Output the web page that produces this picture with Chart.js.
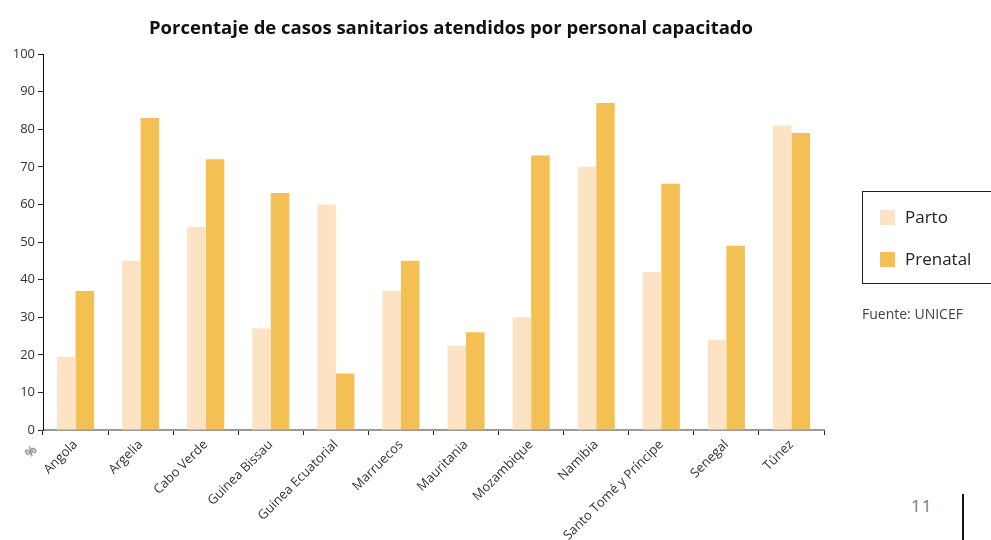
<!DOCTYPE html>
<html>
<head>
<meta charset="utf-8">
<script src="https://cdn.jsdelivr.net/npm/chart.js@4/dist/chart.umd.min.js"></script>
<style>
  html, body { margin: 0; padding: 0; background: #fff; width: 991px; height: 540px; overflow: hidden; font-family: "Open Sans", "Noto Sans", sans-serif; }
  #wrap { position: absolute; left: 0; top: 0; width: 900px; height: 540px; }
  #title { position: absolute; left: 0; width: 902px; top: 14px; text-align: center; font-size: 18.5px; font-weight: bold; color: #111; line-height: 26px; white-space: nowrap; }
  #legend { position: absolute; left: 862px; top: 191px; width: 140px; height: 93px; border: 1px solid #222; box-sizing: border-box; }
  .item { position: absolute; left: 17px; font-size: 17px; color: #222; line-height: 20px; }
  .sw { display: inline-block; width: 15px; height: 15px; vertical-align: -2px; margin-right: 10px; }
  #src { position: absolute; left: 862px; top: 304px; font-size: 14px; color: #444; }
  #pct { position: absolute; left: 25px; top: 442px; font-size: 13px; color: #444; transform: rotate(-45deg); }
  #page { position: absolute; left: 911px; top: 494px; font-size: 17px; color: #777; letter-spacing: 1px; }
  #vline { position: absolute; left: 962px; top: 494px; width: 2px; height: 46px; background: #111; }
</style>
</head>
<body>
<div id="wrap"><canvas id="c" width="900" height="540"></canvas></div>
<div id="title">Porcentaje de casos sanitarios atendidos por personal capacitado</div>
<div id="legend"></div>
<div id="src">Fuente: UNICEF</div>
<div id="pct">%</div>
<div id="page">11</div>
<div id="vline"></div>
<script>
const categories = ["Angola", "Argelia", "Cabo Verde", "Guinea Bissau", "Guinea Ecuatorial", "Marruecos", "Mauritania", "Mozambique", "Namibia", "Santo Tomé y Príncipe", "Senegal", "Túnez"];
const parto = [19.5, 45, 54, 27, 60, 37, 22.5, 30, 70, 42, 24, 81];
const prenatal = [37, 83, 72, 63, 15, 45, 26, 73, 87, 65.5, 49, 79];
const seriesNames = ["Parto", "Prenatal"];
const seriesColors = ["#FBE3C4", "#F5C053"];
const yTicks = [0, 10, 20, 30, 40, 50, 60, 70, 80, 90, 100];

const legend = document.getElementById('legend');
seriesNames.forEach((n, i) => {
  const d = document.createElement('div');
  d.className = 'item';
  d.style.top = (i === 0 ? 15 : 57) + 'px';
  d.innerHTML = '<span class="sw" style="background:' + seriesColors[i] + '"></span>' + n;
  legend.appendChild(d);
});

const fontFam = '"Open Sans", "Noto Sans", sans-serif';
new Chart(document.getElementById('c'), {
  type: 'bar',
  data: {
    labels: categories,
    datasets: [
      { label: seriesNames[0], data: parto, backgroundColor: seriesColors[0] },
      { label: seriesNames[1], data: prenatal, backgroundColor: seriesColors[1] }
    ]
  },
  options: {
    responsive: false,
    animation: false,
    layout: { padding: { left: 0, right: 76, top: 54, bottom: 0 } },
    datasets: { bar: { categoryPercentage: 0.57, barPercentage: 1.0 } },
    plugins: {
      legend: { display: false },
      tooltip: { enabled: false },
      title: { display: false }
    },
    scales: {
      x: {
        grid: { display: true, drawOnChartArea: false, drawTicks: true, tickLength: 5, tickColor: '#222', offset: true },
        border: { display: true, color: '#999', width: 2 },
        ticks: { maxRotation: 45, minRotation: 45, autoSkip: false, color: '#333', font: { family: fontFam, size: 13 }, padding: 2 },
        afterFit: (s) => { s.height = 110; }
      },
      y: {
        min: 0, max: 100,
        afterBuildTicks: (s) => { s.ticks = yTicks.map(v => ({ value: v })); },
        grid: { display: true, drawOnChartArea: false, drawTicks: true, tickLength: 5, tickColor: '#222' },
        border: { display: true, color: '#111', width: 1 },
        ticks: { color: '#333', font: { family: fontFam, size: 13 }, padding: 3 },
        afterFit: (s) => { s.width = 43; }
      }
    }
  }
});
</script>
</body>
</html>
